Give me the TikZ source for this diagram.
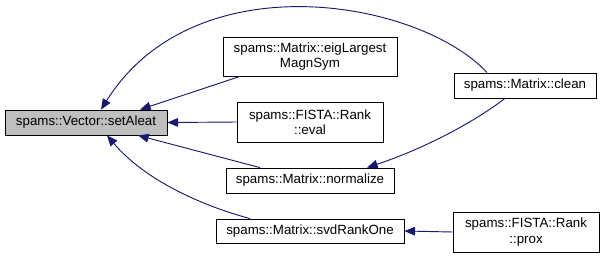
\documentclass[tikz,border=0pt]{standalone}
\usepackage{fontspec}
\setmainfont{Liberation Sans}
\usetikzlibrary{arrows.meta,calc}
\definecolor{edgeblue}{HTML}{191970}
\definecolor{hilite}{HTML}{BFBFBF}
\tikzset{
  fn/.style={draw=black, line width=0.6pt, fill=white, inner sep=0pt, align=center,
             font=\fontsize{10}{11.5}\selectfont},
  focus/.style={fn, fill=hilite},
  edge/.style={draw=edgeblue, line width=0.7pt,
               {Triangle[length=8pt,width=6.5pt]}-},
}
\begin{document}
\begin{tikzpicture}[x=0.75pt,y=-0.75pt]
\useasboundingbox (0,0) rectangle (605,257);

% functions
\node[focus, minimum width=162*0.75pt, minimum height=25*0.75pt] (set) at (86,122.5) {spams::Vector::setAleat};
\node[fn, minimum width=174*0.75pt, minimum height=39*0.75pt] (eig) at (310,56.5) {spams::Matrix::eigLargest\\MagnSym};
\node[fn, minimum width=146*0.75pt, minimum height=40*0.75pt] (eval) at (310,122) {spams::FISTA::Rank\\::eval};
\node[fn, minimum width=168*0.75pt, minimum height=25*0.75pt] (norm) at (310,180.5) {spams::Matrix::normalize};
\node[fn, minimum width=188*0.75pt, minimum height=24*0.75pt] (svd) at (310,231) {spams::Matrix::svdRankOne};
\node[fn, minimum width=142*0.75pt, minimum height=25*0.75pt] (clean) at (525,85.5) {spams::Matrix::clean};
\node[fn, minimum width=146*0.75pt, minimum height=40*0.75pt] (prox) at (526,232) {spams::FISTA::Rank\\::prox};

% calls (arrow points at the callee)
\draw[edge] ($(set.north)+(15,0)$) .. controls (195,-40) and (420,0) .. ($(clean.north)+(-38,0)$);
\draw[edge] ($(set.north)+(54,0)$) -- ($(eig.south)+(-70,0)$);
\draw[edge] (set.east) -- (eval.west);
\draw[edge] ($(set.south)+(52,0)$) -- ($(norm.north)+(-50,0)$);
\draw[edge] ($(set.south)+(21,0)$) .. controls (145,180) and (200,205) .. ($(svd.north)+(-60,0)$);
\draw[edge] ($(norm.north)+(57,0)$) .. controls (420,150) and (470,125) .. ($(clean.south)+(-20,0)$);
\draw[edge] (svd.east) -- (prox.west);
\end{tikzpicture}
\end{document}
